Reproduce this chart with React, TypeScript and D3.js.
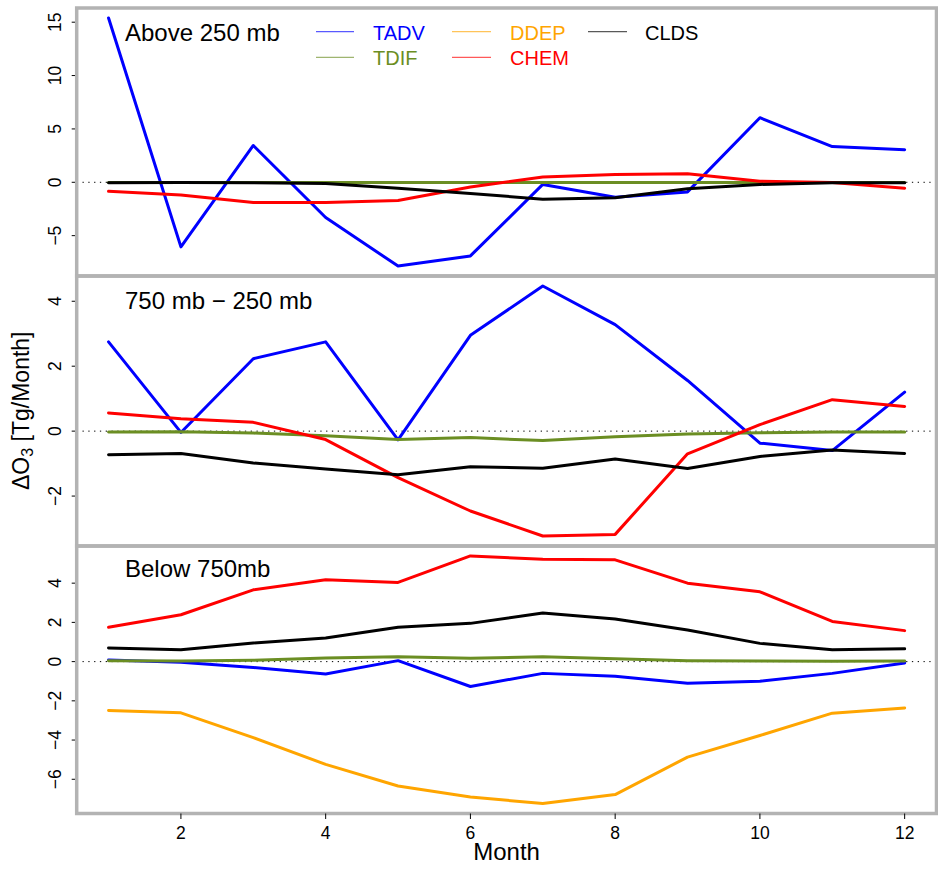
import React from "react";
import * as d3 from "d3";

const months = [1, 2, 3, 4, 5, 6, 7, 8, 9, 10, 11, 12];
const xTicks = [2, 4, 6, 8, 10, 12];

const seriesNames = ["TADV", "TDIF", "DDEP", "CHEM", "CLDS"];
const seriesColors = ["#0000ff", "#6b8e23", "#ffa500", "#ff0000", "#000000"];

const panelTitles = ["Above 250 mb", "750 mb \u2212 250 mb", "Below 750mb"];
const panelTicks = [
  [-5, 0, 5, 10, 15],
  [-2, 0, 2, 4],
  [-6, -4, -2, 0, 2, 4],
];

// Above 250 mb
const tadvAbove = [15.4, -6.05, 3.45, -3.3, -7.85, -6.9, -0.2, -1.4, -0.9, 6.05, 3.35, 3.05];
const tdifAbove = [-0.02, -0.02, -0.02, -0.03, -0.03, -0.03, -0.03, -0.03, -0.02, -0.02, -0.02, -0.02];
const chemAbove = [-0.85, -1.2, -1.9, -1.9, -1.7, -0.45, 0.5, 0.72, 0.8, 0.1, -0.02, -0.55];
const cldsAbove = [-0.05, -0.02, -0.05, -0.12, -0.55, -1.05, -1.58, -1.45, -0.6, -0.2, -0.05, -0.05];

// 750 mb - 250 mb
const tadvMid = [2.75, -0.04, 2.23, 2.75, -0.27, 2.95, 4.47, 3.28, 1.56, -0.37, -0.6, 1.2];
const tdifMid = [-0.03, -0.02, -0.06, -0.14, -0.26, -0.2, -0.29, -0.17, -0.09, -0.05, -0.03, -0.03];
const chemMid = [0.56, 0.38, 0.27, -0.26, -1.43, -2.46, -3.23, -3.18, -0.7, 0.2, 0.97, 0.76];
const cldsMid = [-0.73, -0.69, -0.98, -1.17, -1.34, -1.1, -1.14, -0.86, -1.15, -0.78, -0.58, -0.69];

// Below 750 mb
const tadvBelow = [0.08, -0.03, -0.3, -0.63, 0.05, -1.27, -0.6, -0.75, -1.1, -1.0, -0.6, -0.07];
const tdifBelow = [0.05, 0.03, 0.07, 0.19, 0.25, 0.17, 0.25, 0.14, 0.05, 0.03, 0.02, 0.03];
const ddepBelow = [-2.49, -2.61, -3.88, -5.24, -6.34, -6.9, -7.24, -6.78, -4.87, -3.77, -2.63, -2.36];
const chemBelow = [1.75, 2.39, 3.66, 4.17, 4.04, 5.39, 5.22, 5.19, 4.0, 3.56, 2.05, 1.58];
const cldsBelow = [0.7, 0.61, 0.95, 1.2, 1.75, 1.95, 2.48, 2.17, 1.61, 0.93, 0.61, 0.65];

// per panel: [TADV, TDIF, DDEP, CHEM, CLDS]; null = not drawn
const panelSeries: (number[] | null)[][] = [
  [tadvAbove, tdifAbove, null, chemAbove, cldsAbove],
  [tadvMid, tdifMid, null, chemMid, cldsMid],
  [tadvBelow, tdifBelow, ddepBelow, chemBelow, cldsBelow],
];

const FONT = "'Liberation Sans', Arial, Helvetica, sans-serif";
const LEFT = 76.7;
const RIGHT = 936.5;
const panelEdges = [8, 276, 546, 813.5];
const BORDER = "#b3b3b3";

function padExtent(vals: number[]): [number, number] {
  const [lo, hi] = d3.extent(vals) as [number, number];
  const p = (hi - lo) * 0.04;
  return [lo - p, hi + p];
}

export default function App() {
  const xDom = padExtent(months);
  const x = d3.scaleLinear().domain(xDom).range([LEFT, RIGHT]);
  const fmt = (v: number) => (v < 0 ? "\u2212" + Math.abs(v) : String(v));

  const legendCols = [
    { lx: [316, 354], tx: 373 },
    { lx: [452, 491], tx: 510 },
    { lx: [588, 627], tx: 645 },
  ];
  const legendRows = [31.7, 57.3];
  const legendPos = [
    [0, 0],
    [0, 1],
    [1, 0],
    [1, 1],
    [2, 0],
  ];

  return (
    <svg width={938} height={872} style={{ position: "absolute", left: 0, top: 0, background: "#fff" }}>
      <rect x={0} y={0} width={938} height={872} fill="#fff" />
      {panelSeries.map((series, pi) => {
        const top = panelEdges[pi];
        const bottom = panelEdges[pi + 1];
        const all = series.filter((s) => s).flat() as number[];
        const y = d3.scaleLinear().domain(padExtent(all)).range([bottom, top]);
        const line = d3
          .line<number>()
          .x((_, i) => x(months[i]))
          .y((d) => y(d));
        return (
          <g key={pi}>
            <line x1={LEFT} x2={RIGHT} y1={y(0)} y2={y(0)} stroke="#000" strokeWidth={1} strokeDasharray="1.3,4.5" />
            {series.map((s, si) =>
              s ? (
                <path
                  key={si}
                  d={line(s) || ""}
                  fill="none"
                  stroke={seriesColors[si]}
                  strokeWidth={3}
                  strokeLinejoin="round"
                  strokeLinecap="round"
                />
              ) : null
            )}
            {panelTicks[pi].map((t) => (
              <g key={t}>
                <line x1={LEFT - 5} x2={LEFT} y1={y(t)} y2={y(t)} stroke="#000" strokeWidth={1} />
                <text
                  transform={`translate(61,${y(t)}) rotate(-90)`}
                  textAnchor="middle"
                  fontFamily={FONT}
                  fontSize={17.5}
                  fill="#000"
                >
                  {fmt(t)}
                </text>
              </g>
            ))}
            <text x={125} y={top + (pi === 2 ? 30.7 : 32.5)} fontFamily={FONT} fontSize={24} fill="#000">
              {panelTitles[pi]}
            </text>
            <rect x={LEFT} y={top} width={RIGHT - LEFT} height={bottom - top} fill="none" stroke={BORDER} strokeWidth={3.5} />
          </g>
        );
      })}
      {xTicks.map((t) => (
        <g key={t}>
          <line x1={x(t)} x2={x(t)} y1={panelEdges[3]} y2={panelEdges[3] + 5.5} stroke="#000" strokeWidth={1} />
          <text x={x(t)} y={839} textAnchor="middle" fontFamily={FONT} fontSize={17.5} fill="#000">
            {t}
          </text>
        </g>
      ))}
      <text x={(LEFT + RIGHT) / 2} y={860} textAnchor="middle" fontFamily={FONT} fontSize={24} fill="#000">
        Month
      </text>
      <text
        transform={`translate(29,${(panelEdges[0] + panelEdges[3]) / 2}) rotate(-90)`}
        textAnchor="middle"
        fontFamily={FONT}
        fontSize={23}
        fill="#000"
      >
        {"\u0394O"}
        <tspan fontSize={16} dy={4}>3</tspan>
        <tspan dy={-4}>{" [Tg/Month]"}</tspan>
      </text>
      {seriesNames.map((name, i) => {
        const [c, r] = legendPos[i];
        const col = legendCols[c];
        const ly = legendRows[r];
        return (
          <g key={name}>
            <line x1={col.lx[0]} x2={col.lx[1]} y1={ly} y2={ly} stroke={seriesColors[i]} strokeWidth={1.3} strokeOpacity={0.65} />
            <text x={col.tx} y={ly + 8} fontFamily={FONT} fontSize={20} fill={seriesColors[i]}>
              {name}
            </text>
          </g>
        );
      })}
    </svg>
  );
}
